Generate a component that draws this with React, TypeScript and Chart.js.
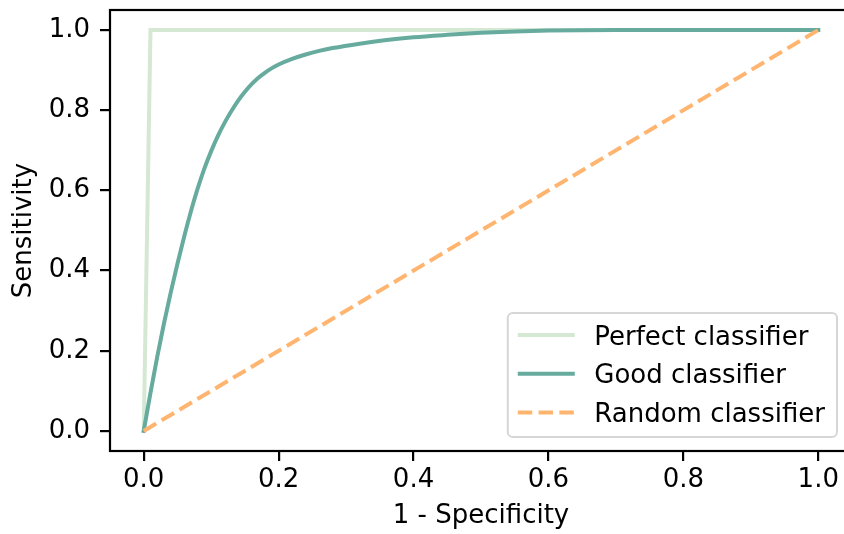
import React, { useEffect, useRef } from "react";
import { Chart, registerables } from "chart.js";

Chart.register(...registerables);

// ---- data ----
const perfectX = [0, 0.01, 1.0];
const perfectY = [0, 1.0, 1.0];

const goodX = [0, 0.01, 0.02, 0.03, 0.04, 0.05, 0.06, 0.07, 0.08, 0.09, 0.1, 0.11, 0.12, 0.13, 0.14, 0.15, 0.16, 0.17, 0.18, 0.19, 0.2, 0.22, 0.24, 0.26, 0.28, 0.32, 0.36, 0.4, 0.45, 0.5, 0.55, 0.6, 0.65, 0.7, 0.8, 0.9, 1.0];
const goodY = [0, 0.095, 0.185, 0.268, 0.345, 0.417, 0.485, 0.548, 0.605, 0.655, 0.698, 0.736, 0.769, 0.798, 0.824, 0.846, 0.865, 0.881, 0.894, 0.905, 0.914, 0.928, 0.939, 0.948, 0.955, 0.966, 0.975, 0.982, 0.988, 0.993, 0.9965, 0.9988, 0.9998, 1.0, 1.0, 1.0, 1.0];

const randomX = [0, 1.0];
const randomY = [0, 1.0];

const seriesLabels = ["Perfect classifier", "Good classifier", "Random classifier"];
const seriesColors = ["#d5e8d4", "#67ab9f", "#ffb570"];

const xTicks = [0, 0.2, 0.4, 0.6, 0.8, 1.0];
const yTicks = [0, 0.2, 0.4, 0.6, 0.8, 1.0];

const xTitle = "1 - Specificity";
const yTitle = "Sensitivity";

const FONT = "'DejaVu Sans', sans-serif";
const FS = 26;
const LW = 4;
const SPINE = 2.2;

const pts = (xs: number[], ys: number[]) => xs.map((x, i) => ({ x, y: ys[i] }));

const framePlugin = {
  id: "frame",
  afterDatasetsDraw(chart: any) {
    const { ctx, chartArea: a } = chart;
    ctx.save();
    ctx.strokeStyle = "#000";
    ctx.lineWidth = SPINE;
    ctx.lineJoin = "miter";
    ctx.strokeRect(a.left, a.top, a.right - a.left, a.bottom - a.top);
    ctx.restore();
  },
};

const legendPlugin = {
  id: "mplLegend",
  afterDraw(chart: any) {
    const { ctx, chartArea: a } = chart;
    ctx.save();
    ctx.font = `${FS}px ${FONT}`;
    const maxW = Math.max(...seriesLabels.map((t) => ctx.measureText(t).width));
    const padL = 10, lineLen = 57, gap = 19.5, padR = 12;
    const bw = padL + lineLen + gap + maxW + padR;
    const bh = 124;
    const right = a.right - 15;
    const bottom = a.bottom - 14;
    const bx = right - bw;
    const by = bottom - bh;
    ctx.beginPath();
    (ctx as any).roundRect(bx, by, bw, bh, 5);
    ctx.fillStyle = "rgba(255,255,255,0.85)";
    ctx.fill();
    ctx.strokeStyle = "#d6d6d6";
    ctx.lineWidth = 2;
    ctx.stroke();
    const datasets = chart.data.datasets;
    for (let i = 0; i < seriesLabels.length; i++) {
      const cy = by + 22 + i * 38.8;
      const ds = datasets.find((d: any) => d.label === seriesLabels[i]);
      ctx.beginPath();
      ctx.strokeStyle = ds.borderColor;
      ctx.lineWidth = LW;
      ctx.setLineDash(ds.borderDash || []);
      ctx.lineCap = "butt";
      ctx.moveTo(bx + padL, cy);
      ctx.lineTo(bx + padL + lineLen, cy);
      ctx.stroke();
      ctx.setLineDash([]);
      ctx.fillStyle = "#000";
      ctx.textBaseline = "alphabetic";
      ctx.textAlign = "left";
      ctx.fillText(seriesLabels[i], bx + padL + lineLen + gap, cy + 9.5);
    }
    ctx.restore();
  },
};

export default function App() {
  const ref = useRef<HTMLCanvasElement>(null);
  useEffect(() => {
    if (!ref.current) return;
    const chart = new Chart(ref.current, {
      type: "line",
      data: {
        datasets: [
          {
            label: seriesLabels[0],
            data: pts(perfectX, perfectY),
            borderColor: seriesColors[0],
            borderWidth: LW,
            pointRadius: 0,
            fill: false,
            order: 3,
            borderCapStyle: "square",
            borderJoinStyle: "miter",
          },
          {
            label: seriesLabels[1],
            data: pts(goodX, goodY),
            borderColor: seriesColors[1],
            borderWidth: LW,
            pointRadius: 0,
            fill: false,
            order: 2,
            cubicInterpolationMode: "monotone",
            borderCapStyle: "square",
          },
          {
            label: seriesLabels[2],
            data: pts(randomX, randomY),
            borderColor: seriesColors[2],
            borderWidth: LW,
            borderDash: [14.5, 6.3],
            pointRadius: 0,
            fill: false,
            order: 1,
            borderCapStyle: "butt",
          },
        ],
      },
      options: {
        animation: false,
        responsive: false,
        devicePixelRatio: 1,
        layout: { padding: { left: 0, top: 10, right: 18, bottom: 0 } },
        plugins: { legend: { display: false }, tooltip: { enabled: false } },
        scales: {
          x: {
            type: "linear",
            min: -0.05,
            max: 1.05,
            afterBuildTicks: (s: any) => {
              s.ticks = xTicks.map((v) => ({ value: v }));
            },
            afterFit: (s: any) => {
              s.height = 83;
              s.paddingLeft = 0;
              s.paddingRight = 0;
            },
            ticks: {
              autoSkip: false,
              maxRotation: 0,
              padding: 4,
              color: "#000",
              font: { family: FONT, size: FS, lineHeight: 1.2 },
              callback: (v: any) => Number(v).toFixed(1),
            },
            grid: {
              display: true,
              drawOnChartArea: false,
              drawTicks: true,
              tickLength: 10,
              tickWidth: SPINE,
              tickColor: "#000",
              color: "#000",
              lineWidth: SPINE,
            },
            border: { display: false },
            title: {
              display: true,
              text: xTitle,
              color: "#000",
              font: { family: FONT, size: FS, lineHeight: 1.2 },
              padding: { top: 0, bottom: 2 },
            },
          },
          y: {
            type: "linear",
            min: -0.05,
            max: 1.05,
            afterBuildTicks: (s: any) => {
              s.ticks = yTicks.map((v) => ({ value: v }));
            },
            afterFit: (s: any) => {
              s.width = 110;
              s.paddingTop = 0;
              s.paddingBottom = 0;
            },
            ticks: {
              autoSkip: false,
              padding: 10,
              color: "#000",
              font: { family: FONT, size: FS, lineHeight: 1.2 },
              callback: (v: any) => Number(v).toFixed(1),
            },
            grid: {
              display: true,
              drawOnChartArea: false,
              drawTicks: true,
              tickLength: 10,
              tickWidth: SPINE,
              tickColor: "#000",
              color: "#000",
              lineWidth: SPINE,
            },
            border: { display: false },
            title: {
              display: true,
              text: yTitle,
              color: "#000",
              font: { family: FONT, size: FS, lineHeight: 1.2 },
              padding: { top: 9, bottom: 0 },
            },
          },
        },
      } as any,
      plugins: [framePlugin, legendPlugin],
    });
    return () => chart.destroy();
  }, []);
  return (
    <div
      style={{
        position: "fixed",
        left: 0,
        top: 0,
        width: 844,
        height: 534,
        overflow: "hidden",
        background: "#fff",
      }}
    >
      <canvas ref={ref} width={870} height={534} style={{ display: "block" }} />
    </div>
  );
}
